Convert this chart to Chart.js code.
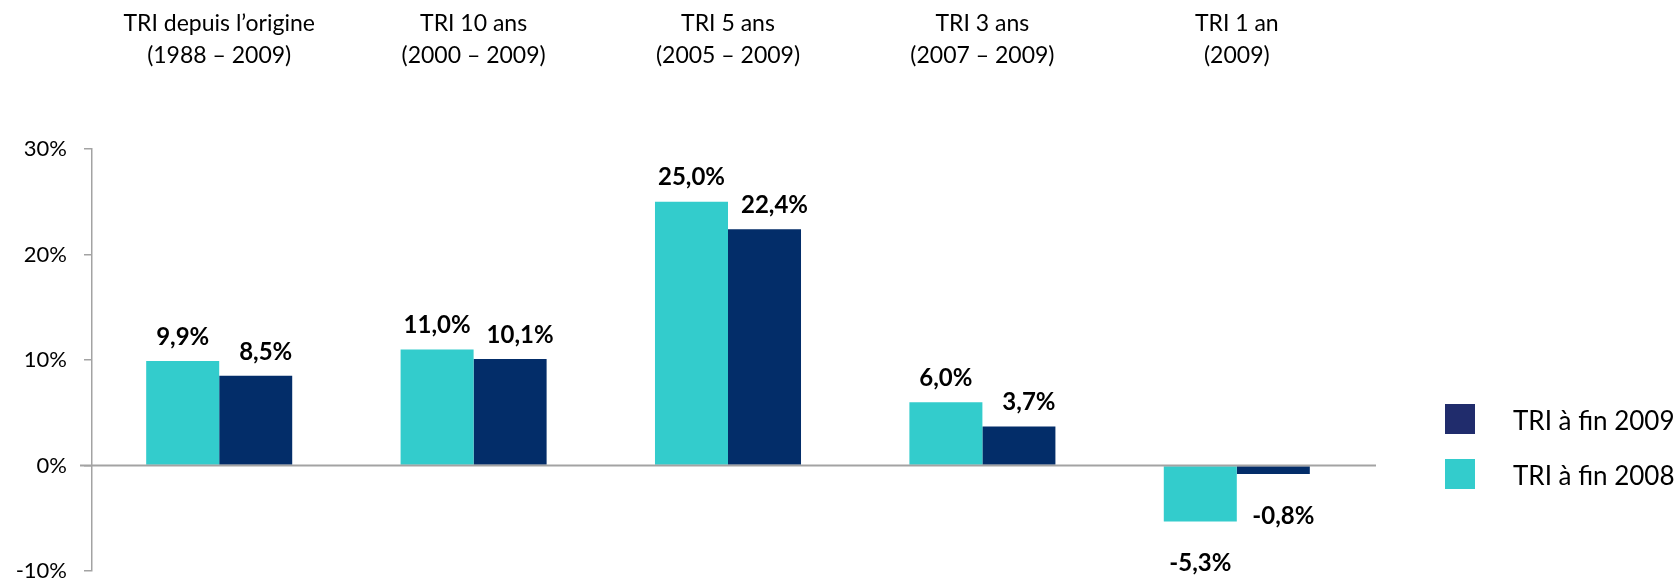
<!DOCTYPE html>
<html><head><meta charset="utf-8">
<script src="https://cdn.jsdelivr.net/npm/chart.js@4/dist/chart.umd.min.js"></script>
<style>html,body{margin:0;padding:0;background:#fff;} #wrap{width:1677px;height:582px;position:relative;}</style>
</head><body><div id="wrap"><canvas id="c"></canvas></div>
<script>
const categories = [
  ["TRI depuis l’origine", "(1988 – 2009)"],
  ["TRI 10 ans", "(2000 – 2009)"],
  ["TRI 5 ans", "(2005 – 2009)"],
  ["TRI 3 ans", "(2007 – 2009)"],
  ["TRI 1 an", "(2009)"]
];
const tri2008 = [9.9, 11.0, 25.0, 6.0, -5.3];
const tri2009 = [8.5, 10.1, 22.4, 3.7, -0.8];
const seriesNames = ["TRI à fin 2008", "TRI à fin 2009"];
const yMin = -10, yMax = 30, yStep = 10;

const FONT = "Lato, 'Liberation Sans', sans-serif";
const CYAN = '#33CCCC';
const NAVY = '#032D69';
const NAVY_LEGEND = '#202C6C';
const GRAY = '#A3A3A3';

const fmt = v => v.toFixed(1).replace('.', ',') + '%';

const zeroLinePlugin = {
  id: 'zeroLine',
  afterDatasetsDraw(chart) {
    const {ctx, chartArea, scales} = chart;
    const y = scales.y.getPixelForValue(0);
    ctx.save();
    ctx.strokeStyle = GRAY;
    ctx.lineWidth = 2;
    ctx.beginPath();
    ctx.moveTo(chartArea.left - 12, y);
    ctx.lineTo(chartArea.right + 12, y);
    ctx.stroke();
    ctx.restore();
  }
};

const labelShift = [0, 10];
const labelPlugin = {
  id: 'valueLabels',
  afterDatasetsDraw(chart) {
    const {ctx} = chart;
    ctx.save();
    ctx.font = 'bold 24px ' + FONT;
    ctx.fillStyle = '#000';
    ctx.textAlign = 'center';
    ctx.textBaseline = 'middle';
    chart.data.datasets.forEach((ds, di) => {
      const meta = chart.getDatasetMeta(di);
      meta.data.forEach((el, i) => {
        const v = ds.data[i];
        const y = v >= 0 ? el.y - 24 : el.y + 42;
        ctx.fillText(fmt(v), el.x + labelShift[di], y);
      });
    });
    ctx.restore();
  }
};

const legendPlugin = {
  id: 'customLegend',
  afterDraw(chart) {
    const {ctx, chartArea} = chart;
    const x0 = chartArea.right + 81;
    const items = [
      {name: seriesNames[1], color: NAVY_LEGEND, y: 404},
      {name: seriesNames[0], color: CYAN, y: 459}
    ];
    ctx.save();
    ctx.font = '26px ' + FONT;
    ctx.textBaseline = 'middle';
    ctx.textAlign = 'left';
    items.forEach(it => {
      ctx.fillStyle = it.color;
      ctx.fillRect(x0, it.y, 30, 30);
      ctx.fillStyle = '#000';
      ctx.fillText(it.name, x0 + 68, it.y + 18);
    });
    ctx.restore();
  }
};

function make() {
  new Chart(document.getElementById('c'), {
    type: 'bar',
    data: {
      labels: categories,
      datasets: [
        {label: seriesNames[0], data: tri2008, backgroundColor: CYAN, borderWidth: 0},
        {label: seriesNames[1], data: tri2009, backgroundColor: NAVY, borderWidth: 0}
      ]
    },
    options: {
      responsive: true,
      maintainAspectRatio: false,
      animation: false,
      layout: {padding: {left: 0, right: 313, top: 0, bottom: 11}},
      datasets: {bar: {categoryPercentage: 0.574, barPercentage: 1.0}},
      plugins: {legend: {display: false}, tooltip: {enabled: false}},
      scales: {
        x: {
          position: 'top',
          grid: {display: false, drawTicks: false},
          border: {display: false},
          ticks: {font: {family: FONT, size: 23, lineHeight: '32px'}, color: '#000', padding: 77, maxRotation: 0, autoSkip: false},
          afterFit(s) { s.height = 149; s.paddingLeft = 0; s.paddingRight = 0; }
        },
        y: {
          min: yMin, max: yMax,
          ticks: {stepSize: yStep, callback: v => v + '%', font: {family: FONT, size: 22}, color: '#000', padding: 17},
          grid: {drawOnChartArea: false, drawTicks: true, tickLength: 8, color: GRAY, lineWidth: 1.5},
          border: {color: GRAY, width: 1.5},
          afterFit(s) { s.width = 92; s.paddingTop = 0; s.paddingBottom = 0; }
        }
      }
    },
    plugins: [zeroLinePlugin, labelPlugin, legendPlugin]
  });
}
if (document.fonts && document.fonts.load) {
  Promise.all([document.fonts.load('22px Lato'), document.fonts.load('bold 24px Lato')]).then(make, make);
} else { make(); }
</script></body></html>
